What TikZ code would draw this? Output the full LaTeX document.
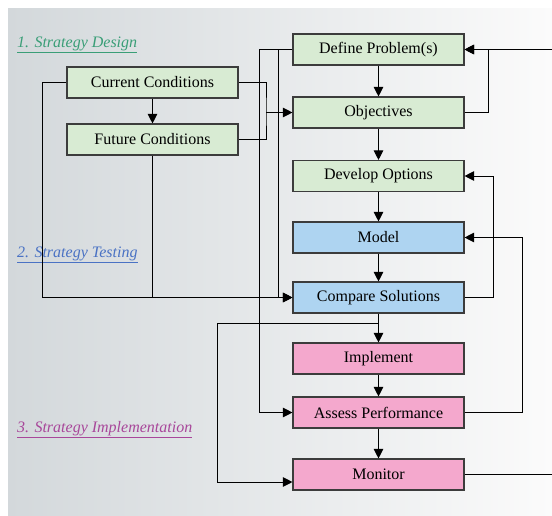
\documentclass[tikz,border=0pt]{standalone}
\usepackage{fontspec}
\setmainfont{Liberation Serif}
\usetikzlibrary{arrows.meta,calc}
\definecolor{bgl}{HTML}{D3D8DB}
\definecolor{bgr}{HTML}{FBFBFB}
\definecolor{gfill}{HTML}{D8EBD3}
\definecolor{bfill}{HTML}{AED4F1}
\definecolor{pfill}{HTML}{F4A8CD}
\definecolor{edge}{HTML}{3C3C3C}
\definecolor{lgreen}{HTML}{3A9E77}
\definecolor{lblue}{HTML}{4A72C4}
\definecolor{lpink}{HTML}{A8479A}
\tikzset{
  box/.style={draw=edge, line width=1.1pt, minimum width=171pt, minimum height=31pt,
    inner sep=0pt, font=\rmfamily\fontsize{16}{19}\selectfont},
  gbox/.style={box, fill=gfill},
  bbox/.style={box, fill=bfill},
  pbox/.style={box, fill=pfill},
  conn/.style={draw=black, line width=0.9pt},
  arr/.style={conn, -{Triangle[length=9.5pt,width=9.5pt]}},
  stage/.style={anchor=base west, inner sep=0pt, font=\rmfamily\fontsize{16}{19}\selectfont\itshape}
}
\begin{document}
\begin{tikzpicture}[x=1pt,y=-1pt]
\useasboundingbox (0,0) rectangle (552,515);
\shade[left color=bgl, right color=bgr] (8,8) rectangle (552,515);

\node[stage, text=lgreen] (s1) at (17,47) {\underline{1. Strategy Design}};
\node[stage, text=lblue] (s2) at (17,257) {\underline{2. Strategy Testing}};
\node[stage, text=lpink] (s3) at (17,432) {\underline{3. Strategy Implementation}};

\node[gbox] (def) at (378.5,49.5) {Define Problem(s)};
\node[gbox] (obj) at (378.5,112.5) {Objectives};
\node[gbox] (dev) at (378.5,176) {Develop Options};
\node[bbox] (model) at (378.5,237.5) {Model};
\node[bbox] (cmp) at (378.5,297.5) {Compare Solutions};
\node[pbox] (impl) at (378.5,358.5) {Implement};
\node[pbox] (assess) at (378.5,412.5) {Assess Performance};
\node[pbox] (mon) at (378.5,474.5) {Monitor};
\node[gbox] (cur) at (152.5,82.5) {Current Conditions};
\node[gbox] (fut) at (152.5,139.5) {Future Conditions};

% main column
\draw[arr] (def) -- (obj);
\draw[arr] (obj) -- (dev);
\draw[arr] (dev) -- (model);
\draw[arr] (model) -- (cmp);
\draw[arr] (cmp) -- (impl);
\draw[arr] (impl) -- (assess);
\draw[arr] (assess) -- (mon);

% conditions
\draw[arr] (cur) -- (fut);
\draw[arr] (cur.west) -- ++(-24,0) |- (cmp.west);
\draw[conn] (fut.south) -- (fut.south |- cmp.west);
\coordinate (j1) at (266,112.5);
\draw[conn] (cur.east) -| (j1) |- (fut.east);
\draw[arr] (j1) -- (obj.west);

% define problem left branches
\draw[arr] (def.west) -- ++(-14,0) |- (cmp.west);
\draw[arr] (def.west) -- ++(-33,0) |- (assess.west);

% compare -> monitor
\coordinate (j2) at ($(cmp.south)+(0,10)$);
\coordinate (mi) at ($(mon.west)+(0,7.5)$);
\draw[arr] (j2) -- ++(-161.5,0) |- (mi);

% right side feedback
\draw[arr] (obj.east) -- ++(24,0) |- (def.east);
\draw[arr] (mon.east) -- ++(110,0) |- (def.east);
\draw[arr] (cmp.east) -- ++(29,0) |- (dev.east);
\draw[arr] (assess.east) -- ++(58,0) |- (model.east);
\end{tikzpicture}
\end{document}
